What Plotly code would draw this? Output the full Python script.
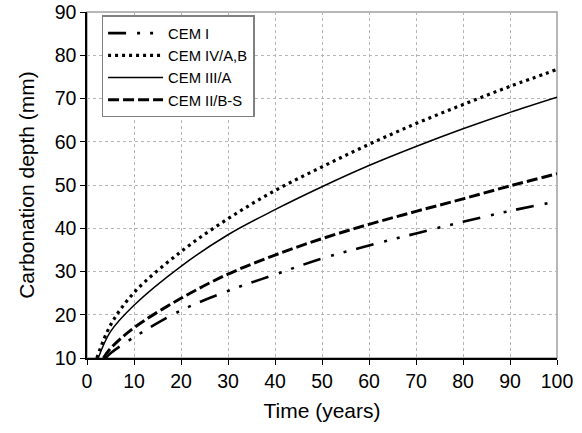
import plotly.graph_objects as go

# Carbonation depth (mm) over time (years) for four cement types
t_cem1 = [4.0, 5, 10, 20, 30, 40, 50, 60, 70, 80, 90, 100]
d_cem1 = [10.0, 11.1, 14.8, 21.0, 25.5, 29.3, 33.0, 36.0, 38.8, 41.5, 44.0, 46.2]

t_cem4 = [2.1, 5, 10, 20, 30, 40, 50, 60, 70, 80, 90, 100]
d_cem4 = [10.0, 17.6, 25.1, 34.6, 42.2, 48.7, 54.2, 59.4, 64.2, 68.6, 72.8, 76.7]

t_cem3 = [2.4, 5, 10, 20, 30, 40, 50, 60, 70, 80, 90, 100]
d_cem3 = [10.0, 16.1, 22.2, 31.2, 38.5, 44.3, 49.6, 54.5, 58.9, 63.0, 66.8, 70.3]

t_cem2 = [3.5, 5, 10, 20, 30, 40, 50, 60, 70, 80, 90, 100]
d_cem2 = [10.0, 12.2, 17.0, 23.8, 29.4, 33.8, 37.6, 40.9, 43.9, 46.8, 49.8, 52.6]

x_ticks = [0, 10, 20, 30, 40, 50, 60, 70, 80, 90, 100]
y_ticks = [10, 20, 30, 40, 50, 60, 70, 80, 90]

FONT = "Liberation Sans, Arial, sans-serif"

fig = go.Figure()
fig.add_trace(go.Scatter(
    x=t_cem1, y=d_cem1, name="CEM I", mode="lines",
    line=dict(color="black", width=2.6, shape="spline",
              dash="18px,11px,3px,10px,3px,10px")))
fig.add_trace(go.Scatter(
    x=t_cem4, y=d_cem4, name="CEM IV/A,B", mode="lines",
    line=dict(color="black", width=3.2, shape="spline", dash="3px,4px")))
fig.add_trace(go.Scatter(
    x=t_cem3, y=d_cem3, name="CEM III/A", mode="lines",
    line=dict(color="black", width=1.5, shape="spline")))
fig.add_trace(go.Scatter(
    x=t_cem2, y=d_cem2, name="CEM II/B-S", mode="lines",
    line=dict(color="black", width=3, shape="spline", dash="11px,4px")))

fig.update_layout(
    width=582, height=433,
    margin=dict(l=87, r=25, t=12, b=75),
    paper_bgcolor="white", plot_bgcolor="white",
    font=dict(family=FONT, color="black", size=19.5),
    showlegend=True,
    legend=dict(
        x=0.031, y=0.99, xanchor="left", yanchor="top",
        bgcolor="white", bordercolor="#808080", borderwidth=1.5,
        font=dict(family=FONT, size=14.8, color="black"),
        tracegroupgap=0, itemwidth=55,
    ),
    xaxis=dict(
        range=[0, 100], tickvals=x_ticks, ticks="outside", ticklen=5,
        tickcolor="black", showline=True, linecolor="black", linewidth=1.5,
        showgrid=True, gridcolor="#b5b5b5", gridwidth=1, griddash="dot",
        zeroline=False, automargin=False,
        title=dict(text="Time (years)", font=dict(size=21), standoff=12),
        tickfont=dict(size=19.5),
    ),
    yaxis=dict(
        range=[10, 90], tickvals=y_ticks, ticks="outside", ticklen=5,
        tickcolor="black", showline=True, linecolor="black", linewidth=1.5,
        showgrid=True, gridcolor="#b5b5b5", gridwidth=1, griddash="dot",
        zeroline=False, automargin=False,
        title=dict(text="Carbonation depth (mm)", font=dict(size=21), standoff=14),
        tickfont=dict(size=19.5),
    ),
    shapes=[dict(
        type="rect", xref="paper", yref="paper", x0=0, y0=0, x1=1, y1=1,
        line=dict(color="#a0a0a0", width=1.5), layer="below")],
)

fig.write_html("out.html")
